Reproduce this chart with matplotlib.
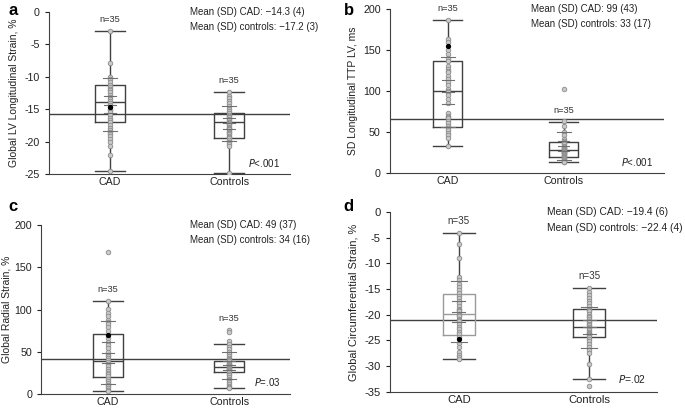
import matplotlib
matplotlib.use("Agg")
import matplotlib.pyplot as plt
import numpy as np

plt.rcParams['font.family'] = ['Liberation Sans', 'DejaVu Sans']
plt.rcParams['axes.unicode_minus'] = False

groups = ["CAD", "Controls"]

# panel a: global LV longitudinal strain
a_cad = [-2.9, -7.9, -10.0, -10.4, -10.8, -11.2, -11.6, -11.9, -12.0, -12.4, -12.8, -13.1, -13.4,
         -13.7, -14.0, -14.3, -14.9, -15.2, -15.5, -15.9, -16.3, -16.7, -17.0, -17.5, -17.9,
         -18.2, -18.5, -18.9, -19.2, -19.6, -20.0, -20.7, -22.0, -24.5]
a_ctrl = [-12.4, -12.9, -13.3, -13.7, -14.1, -14.5, -14.9, -15.3, -15.6, -15.9, -16.0, -16.2,
          -16.5, -16.7, -16.9, -17.0, -17.1, -17.3, -17.5, -17.7, -17.9, -18.0, -18.1, -18.3,
          -18.5, -18.7, -18.9, -19.1, -19.3, -19.5, -19.8, -20.1, -20.4, -20.7, -24.8]
a_box = [(-24.5, -17.0, -13.9, -11.2, -2.9), (-24.8, -19.4, -17.0, -15.6, -12.4)]
a_mean = [-14.3, -17.2]
a_sd = [4.1, 2.7]
a_black = -14.6
a_ref = -15.8
a_ntop = [-2.9, -12.4]

# panel b: SD longitudinal TTP LV
b_cad = [187, 164, 160, 150, 145, 141, 137, 131, 127, 125, 123, 119, 115, 111, 107, 103, 100,
         99, 95, 91, 86, 73, 70, 68, 67, 64, 61, 58, 55, 52, 49, 46, 43, 33]
b_ctrl = [103, 63, 57, 50, 46, 42, 39, 38, 37, 35, 33, 32, 31, 30, 29, 29, 28, 27, 26, 26, 25,
          24, 24, 23, 22, 21, 21, 20, 19, 18, 17, 16, 15, 14, 13]
b_box = [(33, 56, 100, 137, 187), (13, 20, 28, 38, 62)]
b_mean = [99, 33]
b_sd = [43, 17]
b_black = 155
b_ref = 66
b_ntop = [187, 62]

# panel c: global radial strain
c_cad = [168, 110, 101, 96, 92, 88, 85, 83, 79, 75, 66, 62, 58, 54, 50, 46, 45, 43, 40, 38, 36,
         33, 30, 27, 25, 24, 21, 18, 15, 13, 11, 9, 7, 5, 3]
c_ctrl = [76, 73, 63, 59, 56, 53, 50, 47, 45, 43, 41, 40, 39, 37, 36, 35, 34, 33, 32, 31, 30, 29,
          28, 27, 26, 24, 22, 20, 18, 16, 14, 12, 10, 8, 7]
c_box = [(3, 20, 39, 71, 110), (7, 26, 32, 39, 59)]
c_mean = [49, 34]
c_sd = [37, 16]
c_black = 70
c_ref = 42
c_ntop = [110, 76]

# panel d: global circumferential strain
d_cad = [-4.0, -6.2, -8.9, -12.6, -13.3, -14.0, -14.6, -15.2, -15.8, -16.3, -16.8, -17.3, -17.8,
         -18.3, -18.8, -19.0, -19.3, -19.8, -20.0, -20.3, -20.8, -21.0, -21.3, -21.8, -22.3,
         -22.8, -23.3, -23.8, -24.3, -25.5, -26.2, -27.3, -27.8, -28.3, -28.6]
d_ctrl = [-14.8, -15.6, -16.1, -16.8, -17.3, -17.8, -18.3, -18.8, -19.0, -19.3, -19.8, -20.3,
          -20.5, -20.8, -21.3, -21.5, -21.8, -22.0, -22.3, -22.6, -22.9, -23.3, -23.5, -23.8,
          -24.0, -24.3, -24.7, -25.2, -25.7, -26.2, -26.8, -27.5, -29.6, -32.5, -33.8]
d_box = [(-28.6, -24.0, -19.9, -15.9, -4.0), (-32.5, -24.4, -22.3, -18.8, -14.8)]
d_mean = [-19.4, -22.4]
d_sd = [6, 4]
d_black = -24.8
d_ref = -21.0
d_ntop = [-4.0, -14.8]

dark = '#404040'
ptface = '#c9c9c9'
ptedge = '#8c8c8c'


def panel(rect, pts, box, mean, sd, black, ref, ntop, ylim, yticks, xlim, ylabel,
          letter, ptext, mtext, mx, fs=7, boxcols=(dark, dark), lpad=4):
    ax = fig.add_axes(rect)
    stats = []
    for (lo, q1, med, q3, hi) in box:
        stats.append(dict(whislo=lo, q1=q1, med=med, q3=q3, whishi=hi, fliers=[]))
    for i in range(2):
        c = boxcols[i]
        ax.bxp([stats[i]], positions=[i + 1], widths=0.25, capwidths=0.25, showfliers=False,
               boxprops=dict(color=c, lw=1), medianprops=dict(color=c, lw=1),
               whiskerprops=dict(color=dark, lw=1), capprops=dict(color=dark, lw=1))
    ax.axhline(ref, color=dark, lw=1, zorder=1)
    for i in range(2):
        x = i + 1
        ax.plot(np.full(len(pts[i]), x), pts[i], 'o', ms=3.3, mfc=ptface, mec=ptedge,
                mew=0.6, zorder=3)
        se = sd[i] / np.sqrt(35) * 1.96
        for v, w in [(mean[i] + sd[i], 0.12), (mean[i] - sd[i], 0.12),
                     (mean[i] + se, 0.1), (mean[i] - se, 0.1), (mean[i], 0.1)]:
            ax.plot([x - w / 2, x + w / 2], [v, v], color='#707070', lw=0.8, zorder=4)
        ax.annotate("n=35", (x, ntop[i]), xytext=(0, 5), textcoords='offset points',
                    ha='center', va='bottom', fontsize=fs - 0.3, color='#333333')
    ax.plot([1], [black], 'o', ms=2.8, color='black', zorder=5)
    ax.set_ylim(ylim)
    ax.set_yticks(yticks)
    ax.set_xlim(xlim)
    ax.set_xticks([1, 2])
    ax.set_xticklabels(groups)
    ax.tick_params(axis='x', length=0, labelsize=fs + 0.7, pad=2, colors='#222222')
    ax.tick_params(axis='y', length=3, labelsize=fs + 0.7, colors='#222222', direction='out')
    for s in ['top', 'right']:
        ax.spines[s].set_visible(False)
    for s in ['left', 'bottom']:
        ax.spines[s].set_color(dark)
    ax.set_ylabel(ylabel, fontsize=fs + 0.5, color='#222222', labelpad=lpad)
    ax.text(mx, 1.0, mtext[0], transform=ax.transAxes, fontsize=fs, va='center',
            color='#222222')
    ax.text(mx, 0.91, mtext[1], transform=ax.transAxes, fontsize=fs, va='center',
            color='#222222')
    ax.text(0.96, 0.07, ptext, transform=ax.transAxes, fontsize=fs, ha='right', va='center',
            color='#222222')
    fig.text(letter[1], letter[2], letter[0], fontsize=12, fontweight='bold', va='center',
             ha='left')
    return ax


fig = plt.figure(figsize=(6.85, 4.09), dpi=100)

m = '\u2212'
panel([0.0715, 0.5746, 0.352, 0.396], [a_cad, a_ctrl], a_box, a_mean, a_sd, a_black, a_ref,
      a_ntop, (-25, 0), np.arange(-25, 1, 5), (0.49, 2.51), "Global LV Longitudinal Strain, %",
      ('a', 0.012, 0.975), "$\\it{P}$<.001",
      ["Mean (SD) CAD: " + m + f"{-a_mean[0]:.1f} ({a_sd[0]:.0f})",
       "Mean (SD) controls: " + m + f"{-a_mean[1]:.1f} ({a_sd[1]:.0f})"], 0.585)

panel([0.569, 0.577, 0.401, 0.400], [b_cad, b_ctrl], b_box, b_mean, b_sd, b_black, b_ref,
      b_ntop, (0, 200), np.arange(0, 201, 50), (0.5, 2.87), "SD Longitudinal TTP LV, ms",
      ('b', 0.502, 0.975), "$\\it{P}$<.001",
      [f"Mean (SD) CAD: {b_mean[0]} ({b_sd[0]})",
       f"Mean (SD) controls: {b_mean[1]} ({b_sd[1]})"], 0.513)

panel([0.060, 0.0367, 0.3635, 0.413], [c_cad, c_ctrl], c_box, c_mean, c_sd, c_black, c_ref,
      c_ntop, (0, 200), np.arange(0, 201, 50), (0.447, 2.504), "Global Radial Strain, %",
      ('c', 0.012, 0.495), "$\\it{P}$=.03",
      [f"Mean (SD) CAD: {c_mean[0]} ({c_sd[0]})",
       f"Mean (SD) controls: {c_mean[1]} ({c_sd[1]})"], 0.598, lpad=2)

panel([0.569, 0.042, 0.390, 0.4397], [d_cad, d_ctrl], d_box, d_mean, d_sd, d_black, d_ref,
      d_ntop, (-35, 0), np.arange(-35, 1, 5), (0.47, 2.52), "Global Circumferential Strain, %",
      ('d', 0.502, 0.495), "$\\it{P}$=.02",
      ["Mean (SD) CAD: " + m + f"{-d_mean[0]:.1f} ({d_sd[0]:.0f})",
       "Mean (SD) controls: " + m + f"{-d_mean[1]:.1f} ({d_sd[1]:.0f})"], 0.59, fs=7.4,
      boxcols=('#9a9a9a', dark))

fig.savefig("out.png", dpi=100)
